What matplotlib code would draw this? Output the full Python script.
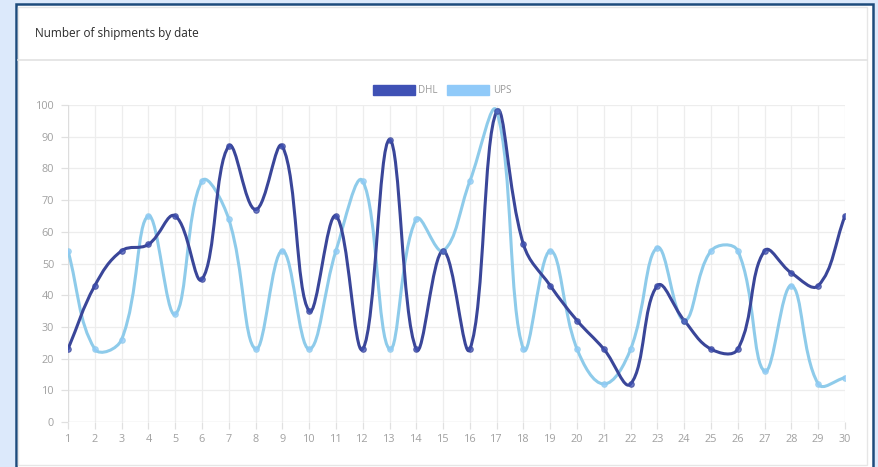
import matplotlib
matplotlib.use("Agg")
import matplotlib.pyplot as plt
import numpy as np
from matplotlib.path import Path
from matplotlib.patches import PathPatch, Rectangle, Patch
from matplotlib.lines import Line2D

# data
days = list(range(1, 31))
dhl = [23, 43, 54, 56, 65, 45, 87, 67, 87, 35, 65, 23, 89, 23, 54,
       23, 98, 56, 43, 32, 23, 12, 43, 32, 23, 23, 54, 47, 43, 65]
ups = [54, 23, 26, 65, 34, 76, 64, 23, 54, 23, 54, 76, 23, 64, 54,
       76, 98, 23, 54, 23, 12, 23, 55, 32, 54, 54, 16, 43, 12, 14]

title = "Number of shipments by date"
series_names = ["DHL", "UPS"]
line_colors = ["#3a4699", "#8ecbea"]
legend_colors = ["#3f51b5", "#90caf9"]

W, H = 879, 467
plt.rcParams['font.family'] = ['Open Sans', 'DejaVu Sans']

fig = plt.figure(figsize=(W / 100, H / 100), dpi=100)
fig.patch.set_facecolor("#dce9fb")

# card with dark border
fig.add_artist(Rectangle((16 / W, -0.01), (873 - 16) / W, (H - 4) / H + 0.01,
                         transform=fig.transFigure, facecolor="white",
                         edgecolor="#1d4b7c", lw=1.8, zorder=0))
fig.add_artist(Rectangle((18 / W, 2 / H), (867 - 18) / W, (H - 7) / H - 2 / H,
                         transform=fig.transFigure, facecolor="white",
                         edgecolor="#e6e6e6", lw=1.0, zorder=0))
fig.add_artist(Line2D([18 / W, 867 / W], [1 - 60 / H, 1 - 60 / H],
                      transform=fig.transFigure, color="#e2e2e2", lw=1.2))
fig.text(35 / W, 1 - 34 / H, title, fontsize=8.5, color="#2b2b2b",
         ha="left", va="center")

ax = fig.add_axes([68 / W, 45 / H, (845 - 68) / W, (422 - 105) / H])
ax.set_xlim(1, 30)
ax.set_ylim(0, 100)
ax.set_facecolor("none")
for s in ax.spines.values():
    s.set_visible(False)
ax.set_xticks(days)
ax.set_yticks(np.arange(0, 101, 10))
ax.grid(True, color="#ededed", lw=0.9)
ax.set_axisbelow(True)
ax.tick_params(axis="both", colors="#e0e0e0", length=5, width=0.9,
               labelcolor="#a0a0a0", labelsize=7.8)
ax.tick_params(axis="y", pad=5)
ax.tick_params(axis="x", pad=4)
ax.axhline(0, color="#dddddd", lw=0.9, zorder=1)
ax.axvline(1, color="#dddddd", lw=0.9, zorder=1)


def spline_path(xs, ys, tension=0.4):
    # chart.js style bezier through the points (computed in pixel space)
    pts = ax.transData.transform(np.column_stack([xs, ys]))
    n = len(pts)
    ctrl_prev = np.zeros_like(pts)
    ctrl_next = np.zeros_like(pts)
    for i in range(n):
        prev = pts[max(i - 1, 0)]
        cur = pts[i]
        nxt = pts[min(i + 1, n - 1)]
        d01 = np.hypot(*(cur - prev))
        d12 = np.hypot(*(nxt - cur))
        tot = d01 + d12
        s01 = d01 / tot if tot else 0
        s12 = d12 / tot if tot else 0
        ctrl_prev[i] = cur - tension * s01 * (nxt - prev)
        ctrl_next[i] = cur + tension * s12 * (nxt - prev)
    verts = [pts[0]]
    codes = [Path.MOVETO]
    for i in range(n - 1):
        verts += [ctrl_next[i], ctrl_prev[i + 1], pts[i + 1]]
        codes += [Path.CURVE4] * 3
    inv = ax.transData.inverted()
    return Path(inv.transform(np.array(verts)), codes)


for vals, col, lc in [(ups, line_colors[1], legend_colors[1]),
                      (dhl, line_colors[0], legend_colors[0])]:
    ax.add_patch(PathPatch(spline_path(days, vals), facecolor="none",
                           edgecolor=col, lw=2.2, zorder=3,
                           capstyle="round", joinstyle="round"))
    ax.plot(days, vals, ls="none", marker="o", ms=4, mfc=lc, mec=col,
            mew=0.8, alpha=0.75, zorder=4)

handles = [Patch(facecolor=c, edgecolor=c) for c in legend_colors]
fig.legend(handles, series_names, loc="center",
           bbox_to_anchor=(442 / W, 1 - 90.5 / H), ncol=2, frameon=False,
           fontsize=7, labelcolor="#999999", handlelength=4.3,
           handleheight=1.2, handletextpad=0.35, columnspacing=1.0)

fig.savefig("out.png", dpi=100, facecolor=fig.get_facecolor())
